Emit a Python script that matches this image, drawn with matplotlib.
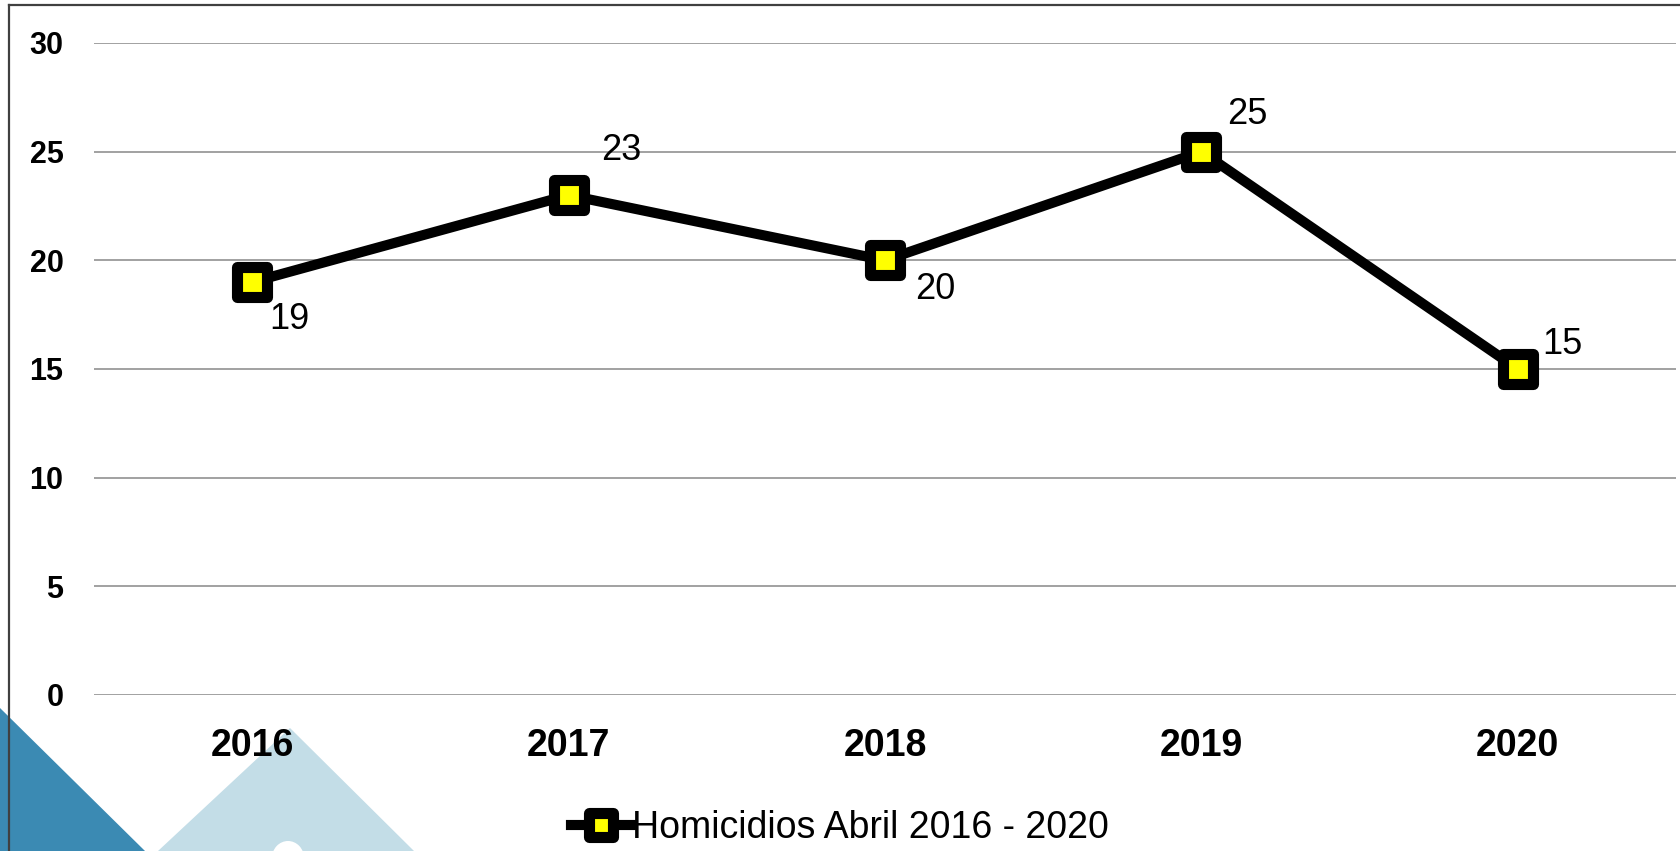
import numpy as np
import matplotlib
matplotlib.use('Agg')
import matplotlib.pyplot as plt
from matplotlib.markers import MarkerStyle
from matplotlib.patches import Polygon, Ellipse
from matplotlib.lines import Line2D

# Datos
anios = ['2016', '2017', '2018', '2019', '2020']
homicidios = [19, 23, 20, 25, 15]
serie = 'Homicidios Abril 2016 - 2020'
yticks = [0, 5, 10, 15, 20, 25, 30]

plt.rcParams['font.family'] = ['Liberation Sans', 'DejaVu Sans']

W, H = 1680, 851
fig = plt.figure(figsize=(W/100, H/100), dpi=100)
fig.patch.set_facecolor('white')

# Decoracion de fondo (esquina inferior izquierda), coordenadas en pixeles
def px(pts):
    return [(x/W, 1 - y/H) for x, y in pts]

fig.add_artist(Polygon(px([(0, 708), (145, 851), (0, 851)]), closed=True,
                       facecolor='#3b8ab3', edgecolor='none', zorder=-2,
                       transform=fig.transFigure))
fig.add_artist(Polygon(px([(158, 851), (290, 728), (414, 851)]), closed=True,
                       facecolor='#c3dde7', edgecolor='none', zorder=-2,
                       transform=fig.transFigure))
fig.add_artist(Ellipse((288/W, 1 - 858/H), 32/W, 34/H, facecolor='white',
                       edgecolor='none', zorder=-1, transform=fig.transFigure))

# Marco
fig.add_artist(Line2D([9/W, 9/W], [0, 1 - 5/H], color='#404040', lw=1.6,
                      transform=fig.transFigure))
fig.add_artist(Line2D([9/W, 1], [1 - 5/H, 1 - 5/H], color='#404040', lw=1.6,
                      transform=fig.transFigure))

ax = fig.add_axes([94/W, 1 - 695/H, (1676 - 94)/W, (695 - 43)/H])
ax.set_facecolor('none')

x = np.arange(len(anios))
mk = MarkerStyle('s', joinstyle='round')
ax.plot(x, homicidios, color='black', lw=7.3, marker=mk, markersize=21,
        markerfacecolor='#ffff00', markeredgecolor='black', markeredgewidth=8,
        label=serie, zorder=3, clip_on=False)

# Etiquetas de datos
offsets = [(27, -27), (38, 32), (36, -21), (33, 27), (32, 18)]
for xi, v, off in zip(x, homicidios, offsets):
    ax.annotate(str(v), xy=(xi, v), xytext=off, textcoords='offset points',
                ha='center', va='center', fontsize=26, color='black')

ax.set_xlim(-0.5, len(anios) - 0.5)
ax.set_ylim(0, 30)
ax.set_yticks(yticks)
ax.set_xticks(x)
ax.set_xticklabels(anios, fontsize=27, fontweight='bold')
ax.set_yticklabels([str(t) for t in yticks], fontsize=22, fontweight='bold')
ax.tick_params(axis='both', length=0)
ax.tick_params(axis='y', pad=22)
ax.tick_params(axis='x', pad=24)
for s in ax.spines.values():
    s.set_visible(False)
ax.yaxis.grid(True, color='#9a9a9a', lw=1.3)
ax.set_axisbelow(True)

fig.legend(loc='center', bbox_to_anchor=(0.5, 1 - 828/H), frameon=False,
           fontsize=27, handlelength=1.6, handletextpad=0.05, markerscale=0.8)

fig.savefig('out.png', dpi=100)
